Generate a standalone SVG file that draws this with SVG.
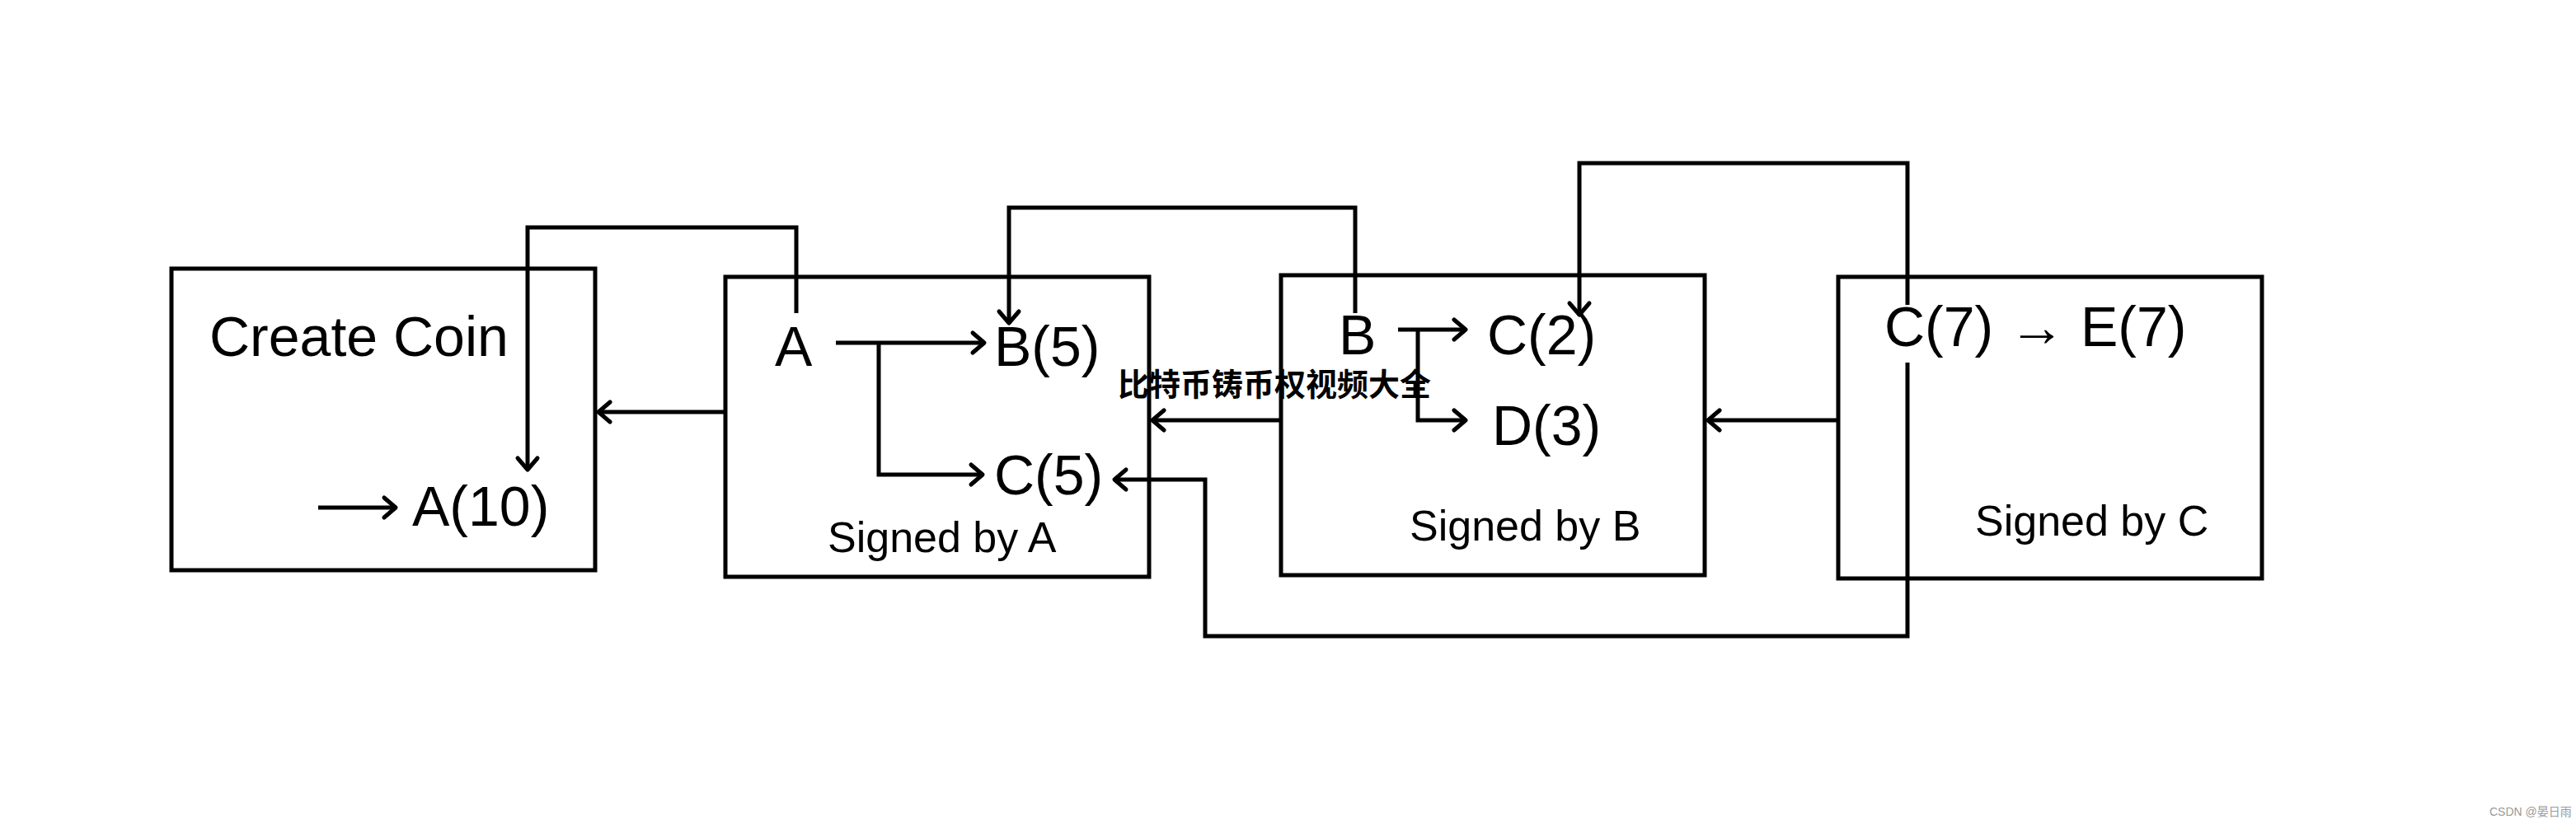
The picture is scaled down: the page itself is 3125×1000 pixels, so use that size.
<svg xmlns="http://www.w3.org/2000/svg" width="3125" height="1000" viewBox="0 0 3125 1000">
<defs>
<marker id="ah" viewBox="-20 -20 40 40" refX="0" refY="0" markerWidth="40" markerHeight="40" orient="auto" markerUnits="userSpaceOnUse"><path d="M-14,-12 L0,0 L-14,12" fill="none" stroke="#000" stroke-width="5" stroke-linecap="round" stroke-linejoin="round"/></marker>
<style>
.box{fill:#fff;stroke:#000;stroke-width:5}
.t{font-family:"Liberation Sans",sans-serif;font-size:68px;fill:#000}
.s{font-family:"Liberation Sans",sans-serif;font-size:52px;fill:#000}
.c{fill:none;stroke:#000;stroke-width:5}
</style>
</defs>
<rect width="3125" height="1000" fill="#fff"/>
<g id="n1"><rect class="box" x="208" y="326" width="514" height="366"/><text class="t" x="254" y="432">Create Coin</text><path class="c" marker-end="url(#ah)" d="M386,616 H480"/><text class="t" x="500" y="638">A(10)</text></g>
<g id="n2"><rect class="box" x="880" y="336" width="514" height="364"/><text class="t" x="940" y="444">A</text><text class="t" x="1206" y="444">B(5)</text><text class="t" x="1206" y="600">C(5)</text><text class="s" x="1004" y="670">Signed by A</text></g>
<g id="n3"><rect class="box" x="1554" y="334" width="514" height="364"/><text class="t" x="1624" y="430">B</text><text class="t" x="1804" y="430">C(2)</text><text class="t" x="1810" y="540">D(3)</text><text class="s" x="1710" y="656">Signed by B</text></g>
<g id="n4"><rect class="box" x="2230" y="336" width="514" height="366"/><text class="t" x="2286" y="420">C(7) → E(7)</text><text class="s" x="2396" y="650">Signed by C</text></g>
<g id="connectors">
<path class="c" marker-end="url(#ah)" d="M880,500 H726"/>
<path class="c" marker-end="url(#ah)" d="M1554,510 H1398"/>
<path class="c" marker-end="url(#ah)" d="M2230,510 H2072"/>
<path class="c" marker-end="url(#ah)" d="M1014,416 H1194"/>
<path class="c" marker-end="url(#ah)" d="M1066,416 V576 H1192"/>
<path class="c" marker-end="url(#ah)" d="M1696,400 H1778"/>
<path class="c" marker-end="url(#ah)" d="M1720,400 V510 H1778"/>
<path class="c" marker-end="url(#ah)" d="M966,380 V276 H640 V570"/>
<path class="c" marker-end="url(#ah)" d="M1644,380 V252 H1224 V392"/>
<path class="c" marker-end="url(#ah)" d="M2314,370 V198 H1916 V382"/>
<path class="c" marker-end="url(#ah)" d="M2314,440 V772 H1462 V582 H1352"/>
</g>
<text x="1356" y="480" font-family="'Noto Sans CJK SC',sans-serif" font-weight="bold" font-size="38" fill="#000">比特币铸币权视频大全</text>
<text x="3020" y="990" font-family="'Liberation Sans','Noto Sans CJK SC',sans-serif" font-size="14" fill="#999">CSDN @晏日雨</text>
</svg>
